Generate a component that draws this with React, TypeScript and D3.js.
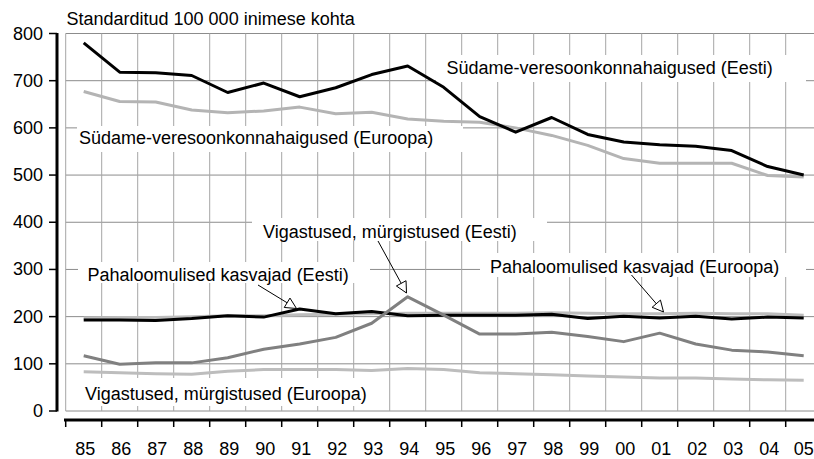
import React from 'react';
import * as d3 from 'd3';

const years = ['85','86','87','88','89','90','91','92','93','94','95','96','97','98','99','00','01','02','03','04','05'];
const yTicks = [0, 100, 200, 300, 400, 500, 600, 700, 800];

const cardioEst = [780, 718, 717, 711, 675, 695, 666, 685, 713, 731, 686, 624, 591, 622, 586, 570, 564, 561, 552, 518, 500];
const cardioEur = [677, 656, 655, 638, 632, 636, 644, 630, 633, 619, 614, 612, 600, 584, 563, 535, 525, 525, 525, 499, 496];
const cancerEst = [193, 193, 192, 196, 202, 199, 216, 206, 211, 202, 203, 203, 203, 205, 196, 201, 197, 201, 195, 199, 197];
const cancerEur = [197, 198, 198, 200, 202, 202, 204, 205, 206, 207, 207, 207, 207, 208, 207, 206, 206, 207, 206, 206, 203];
const injEst = [117, 99, 102, 102, 113, 131, 142, 156, 186, 242, 203, 163, 163, 167, 158, 147, 165, 142, 129, 125, 117];
const injEur = [83, 81, 79, 78, 84, 88, 88, 88, 86, 90, 88, 81, 79, 77, 74, 72, 70, 70, 68, 66, 65];

const title = 'Standarditud 100 000 inimese kohta';

const series = [
  { name: 'cancerEur', values: cancerEur, color: '#bdbdbd' },
  { name: 'injEur', values: injEur, color: '#bdbdbd' },
  { name: 'cancerEst', values: cancerEst, color: '#000000' },
  { name: 'injEst', values: injEst, color: '#808080' },
  { name: 'cardioEur', values: cardioEur, color: '#b4b4b4' },
  { name: 'cardioEst', values: cardioEst, color: '#000000' },
];

// label: text, text x, baseline y, box [x0,y0,x1,y1], optional arrow [x1,y1,x2,y2]
const labels = [
  { text: 'Südame-veresoonkonnahaigused (Eesti)', x: 446.5, y: 74, box: [436, 55, 806, 82] },
  { text: 'Südame-veresoonkonnahaigused (Euroopa)', x: 79, y: 144, box: [77, 126, 463, 152] },
  { text: 'Vigastused, mürgistused (Eesti)', x: 263, y: 237.5, box: [252, 218, 547, 241], arrow: [378, 241, 406.5, 293] },
  { text: 'Pahaloomulised kasvajad (Eesti)', x: 87.5, y: 281, box: [78, 262, 370, 283], arrow: [258, 285, 296.5, 308.5] },
  { text: 'Pahaloomulised kasvajad (Euroopa)', x: 490, y: 272.5, box: [480, 253, 806, 277], arrow: [631.5, 275, 663.5, 312] },
  { text: 'Vigastused, mürgistused (Euroopa)', x: 85, y: 400, box: [77, 378, 372, 406] },
];

const W = 814;
const H = 459;
const plotLeft = 65.7;
const band = 36;
const plotTop = 33.5;
const plotBottom = 411;

export default function App() {
  const x = d3.scaleBand<string>().domain(years).range([plotLeft, plotLeft + band * years.length]).padding(0);
  const y = d3.scaleLinear().domain([0, 800]).range([plotBottom, plotTop]);
  const cx = (i: number) => (x(years[i]) as number) + x.bandwidth() / 2;
  const line = d3.line<number>().x((_, i) => cx(i)).y((d) => y(d));
  const font = '"Liberation Sans", Arial, sans-serif';
  const boundaries = years.map((yr) => x(yr) as number);

  const arrowHead = (a: number[]) => {
    const [x1, y1, x2, y2] = a;
    const ang = Math.atan2(y2 - y1, x2 - x1);
    const L = 11, hw = 5.5;
    const bx = x2 - L * Math.cos(ang), by = y2 - L * Math.sin(ang);
    const px = -Math.sin(ang) * hw, py = Math.cos(ang) * hw;
    return `M${x2},${y2}L${bx + px},${by + py}L${bx - px},${by - py}Z`;
  };

  return (
    <svg width={W} height={H} style={{ position: 'absolute', left: 0, top: 0, background: '#fff' }} fontFamily={font}>
      <rect x={0} y={0} width={W} height={H} fill="#fff" />
      {yTicks.map((t) => (
        <line key={'h' + t} x1={plotLeft} x2={W} y1={y(t)} y2={y(t)} stroke="#8c8c8c" strokeWidth={1} />
      ))}
      {boundaries.map((b, i) => (
        <line key={'v' + i} x1={b} x2={b} y1={plotTop} y2={plotBottom} stroke="#a6a6a6" strokeWidth={1} />
      ))}
      {labels.map((l, i) => (
        <rect key={'b' + i} x={l.box[0]} y={l.box[1]} width={l.box[2] - l.box[0]} height={l.box[3] - l.box[1]} fill="#fff" />
      ))}
      {series.map((s) => (
        <path key={s.name} d={line(s.values) as string} fill="none" stroke={s.color} strokeWidth={3} strokeLinejoin="round" />
      ))}
      <line x1={57} x2={57} y1={plotTop - 0.5} y2={plotBottom + 0.5} stroke="#000" strokeWidth={3} />
      {yTicks.map((t) => (
        <g key={'yt' + t}>
          <line x1={49} x2={57} y1={y(t)} y2={y(t)} stroke="#000" strokeWidth={1.5} />
          <text x={43} y={y(t)} textAnchor="end" dominantBaseline="central" fontSize={18} fill="#000">{t}</text>
        </g>
      ))}
      <line x1={64} x2={W} y1={420} y2={420} stroke="#000" strokeWidth={3} />
      {boundaries.map((b, i) => (
        <line key={'xt' + i} x1={b} x2={b} y1={420} y2={427} stroke="#000" strokeWidth={1.5} />
      ))}
      {years.map((yr, i) => (
        <text key={'xl' + yr} x={cx(i) + (i === years.length - 1 ? 0 : 1.5)} y={455} textAnchor="middle" fontSize={18} fill="#000">{yr}</text>
      ))}
      <text x={66.5} y={25} fontSize={18} fill="#000">{title}</text>
      {labels.map((l, i) => (
        <g key={'l' + i}>
          <text x={l.x} y={l.y} fontSize={18} fill="#000">{l.text}</text>
          {l.arrow && (
            <g>
              <line x1={l.arrow[0]} y1={l.arrow[1]} x2={l.arrow[2]} y2={l.arrow[3]} stroke="#000" strokeWidth={1} />
              <path d={arrowHead(l.arrow)} fill="#fff" stroke="#000" strokeWidth={1} />
            </g>
          )}
        </g>
      ))}
    </svg>
  );
}
